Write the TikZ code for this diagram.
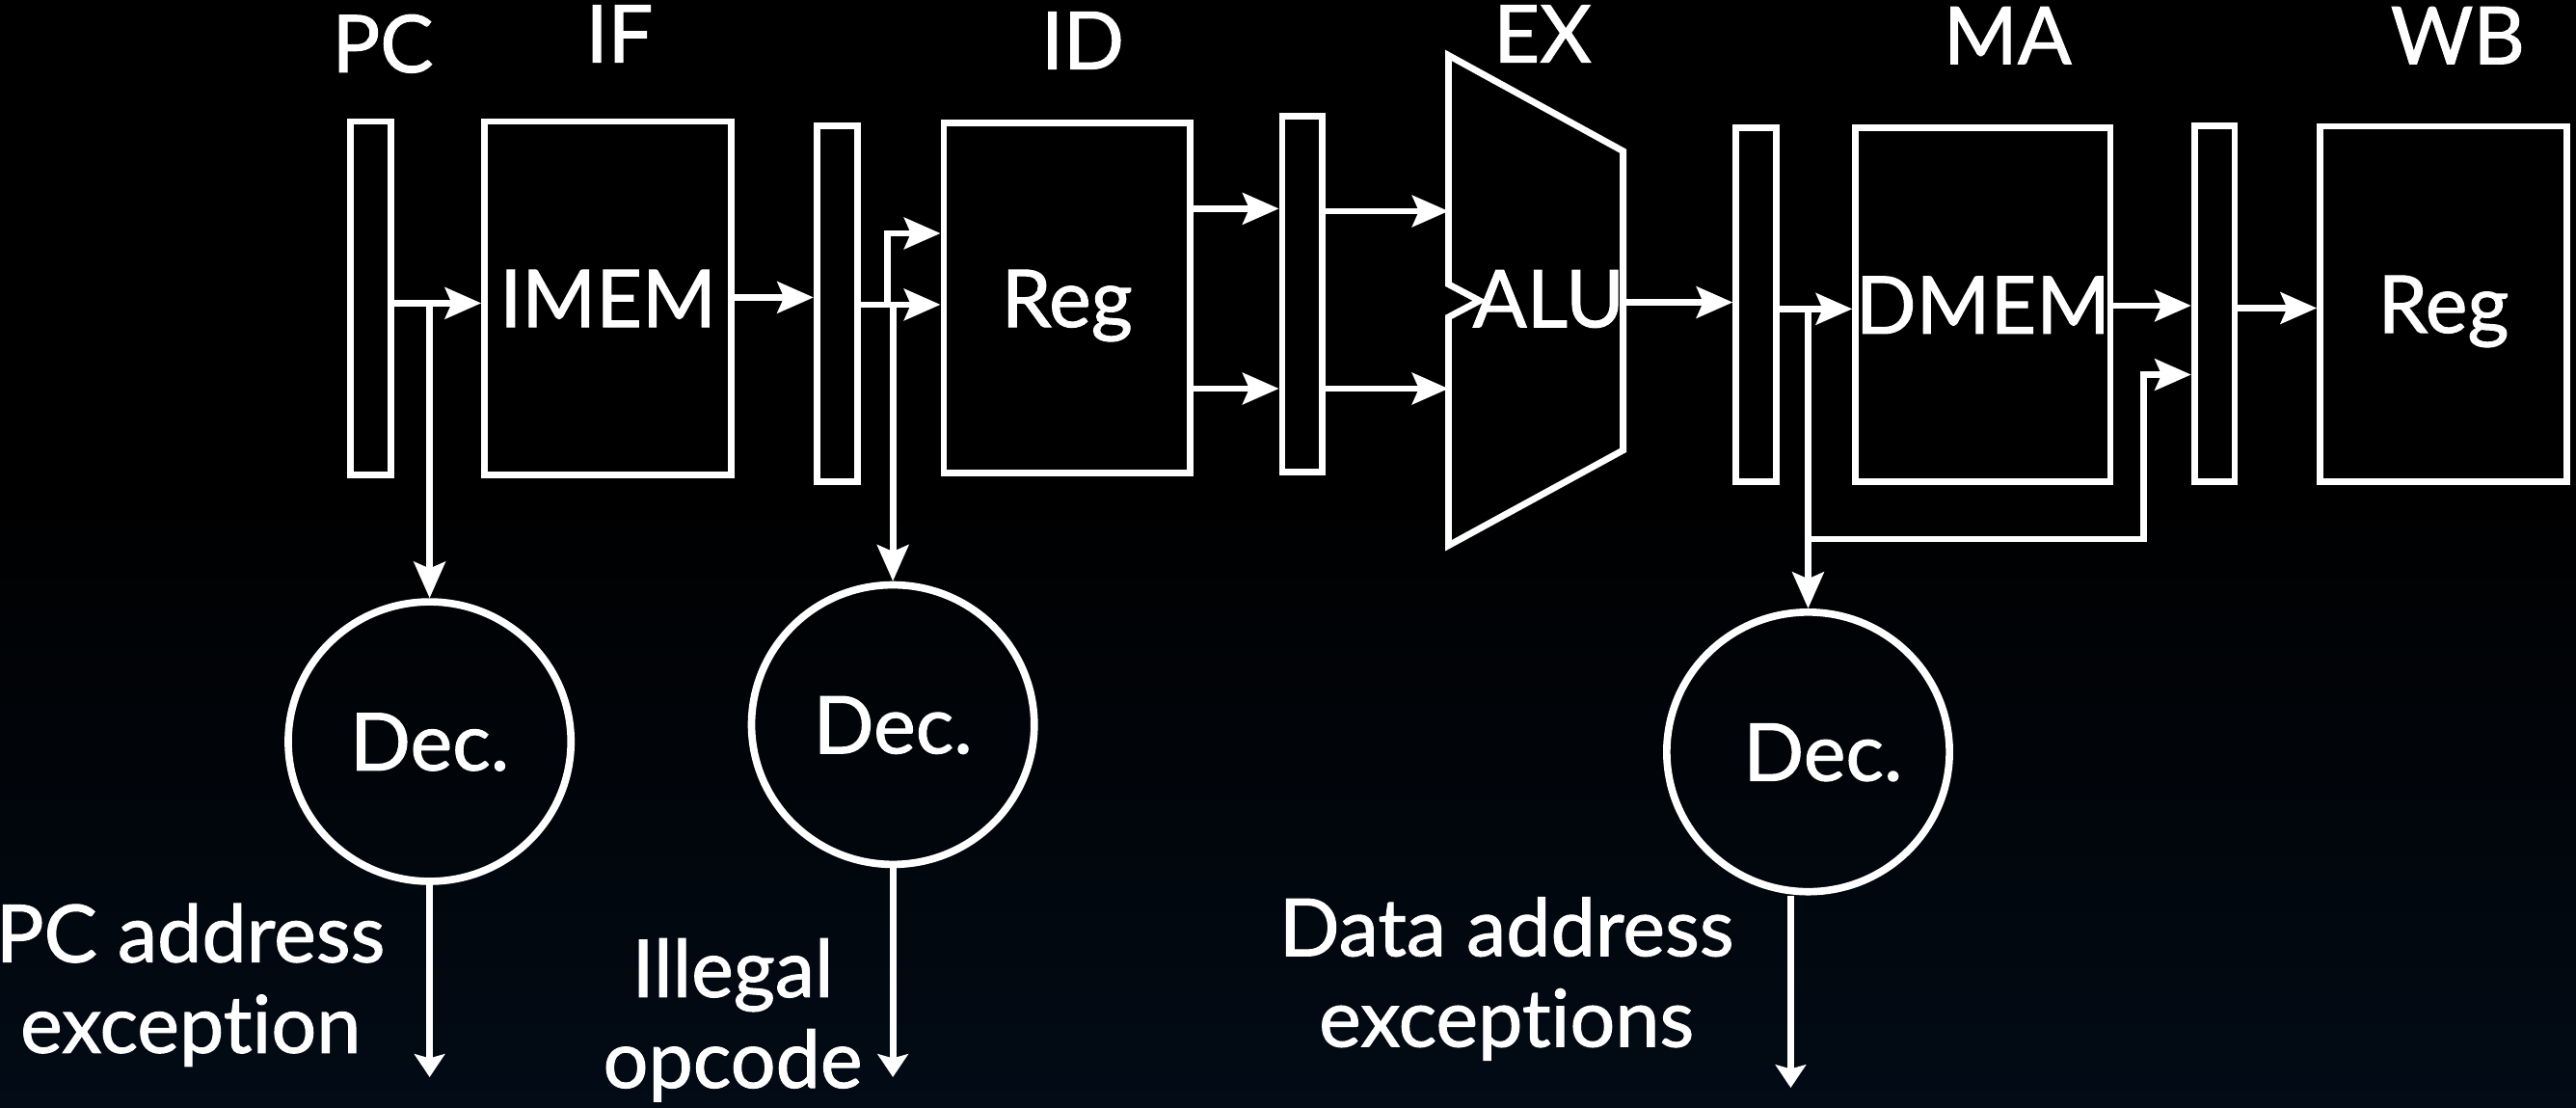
\documentclass[tikz,border=0pt]{standalone}
\usepackage{fontspec}
\setmainfont{Lato}[Ligatures={NoCommon}, FakeBold=1.2, BoldFont=Lato, BoldFeatures={FakeBold=1.2}]
\usetikzlibrary{arrows.meta,shapes.geometric,calc}
\definecolor{bgbot}{RGB}{2,11,22}
\begin{document}
\begin{tikzpicture}[x=0.01cm,y=-0.01cm,
  every node/.style={text=white, font=\fontsize{13.8}{15.7}\selectfont\bfseries},
  wireline/.style={draw=white, line width=0.04cm},
  arr/.style={wireline, -{Stealth[length=0.22cm,width=0.19cm,inset=0.04cm]}},
  outarr/.style={wireline, -{Stealth[length=0.14cm,width=0.185cm,inset=0.025cm]}},
  latchbox/.style={draw=white, line width=0.04cm, rectangle, inner sep=0pt, minimum width=0.245cm},
  funit/.style={draw=white, line width=0.04cm, rectangle, inner sep=0pt, minimum width=1.5cm, text height=0.35cm, text depth=0pt},
  decbox/.style={draw=white, line width=0.045cm, ellipse, inner sep=0pt, minimum width=1.72cm, minimum height=1.7cm, text height=0.35cm, text depth=0pt},
  stagelabel/.style={anchor=base, inner sep=0pt},
  exclabel/.style={anchor=base, align=center, inner sep=0pt}]

% background
\fill[black] (0,0) rectangle (1568,674);
\shade[top color=black, bottom color=bgbot] (0,300) rectangle (1568,674);
\useasboundingbox (0,0) rectangle (1568,674);

% stage labels
\node[stagelabel] (lpc) at (233,44) {PC};
\node[stagelabel] (lif) at (377,38) {IF};
\node[stagelabel] (lid) at (659,42) {ID};
\node[stagelabel] (lex) at (939,38) {EX};
\node[stagelabel] (lma) at (1222,39) {MA};
\node[stagelabel] (lwb) at (1496,39) {WB};

% pipeline blocks
\node[latchbox, minimum height=2.15cm] (pcreg) at (225.5,181.5) {};
\node[funit, minimum height=2.15cm] (imem) at (370,181.5) {IMEM};
\node[latchbox, minimum height=2.165cm] (ifid) at (509.5,184.75) {};
\node[funit, minimum height=2.13cm] (idreg) at (649.5,181.5) {Reg};
\node[latchbox, minimum height=2.16cm] (idex) at (792.75,179) {};
\node[latchbox, minimum height=2.15cm] (exma) at (1069,185.5) {};
\node[funit, minimum height=2.15cm] (dmem) at (1207,185.5) {DMEM};
\node[latchbox, minimum height=2.164cm] (mawb) at (1348,184.8) {};
\node[funit, minimum height=2.16cm] (wbreg) at (1487.3,185) {Reg};

% ALU
\coordinate (aluTL) at (881.7,33.7);
\coordinate (aluTR) at (988,92);
\coordinate (aluBR) at (988,274);
\coordinate (aluBL) at (881.7,332);
\coordinate (aluN1) at (881.7,193);
\coordinate (aluNT) at (900.6,183);
\coordinate (aluN2) at (881.7,173);
\draw[white, line width=0.04cm, line join=miter] (aluTL) -- (aluTR) -- (aluBR) -- (aluBL) -- (aluN1) -- (aluNT) -- (aluN2) -- cycle;
\node[inner sep=0pt, text height=0.35cm, text depth=0pt] (alu) at (942.6,181.6) {ALU};
\coordinate (aluout) at (988,184);

% decoders
\node[decbox] (dec1) at (261.5,451.3) {Dec.};
\node[decbox] (dec2) at (543.5,441) {Dec.};
\node[decbox, label={[text height=0.35cm, text depth=0pt, inner sep=0pt, xshift=0.09cm]center:Dec.}] (dec3) at (1100.6,457.6) {};

% exception labels (anchor base = last line)
\node[exclabel] (e1) at (116,640.7) {PC address\\exception};
\node[exclabel] (e2) at (446,662) {Illegal\\opcode};
\node[exclabel] (e3) at (917,637) {Data address\\exceptions};

% connectors
\draw[arr] (pcreg.east |- 0,184.5) -- (imem.west |- 0,184.5);
\draw[arr] (dec1.north |- 0,184.5) -- (dec1.north);

\draw[arr] (imem.east |- 0,181) -- (ifid.west |- 0,181);

\coordinate (f1) at (540,185.4);
\draw[arr] (ifid.east |- f1) -- (idreg.west |- f1);
\draw[arr] (f1) |- (idreg.west |- 0,142);
\draw[arr] (dec2.north |- f1) -- (dec2.north);

\draw[arr] (idreg.east |- 0,127) -- (idex.west |- 0,127);
\draw[arr] (idreg.east |- 0,236.5) -- (idex.west |- 0,236.5);
\draw[arr] (idex.east |- 0,128.5) -- (aluTL |- 0,128.5);
\draw[arr] (idex.east |- 0,236.5) -- (aluTL |- 0,236.5);

\draw[arr] (aluout) -- (exma.west |- aluout);

\coordinate (f3) at (1100.6,188);
\coordinate (f3b) at (1100.6,328);
\coordinate (f4) at (1304.6,228);
\draw[arr] (exma.east |- f3) -- (dmem.west |- f3);
\draw[arr] (f3) -- (f3b) -| (f4) -- (mawb.west |- f4);
\draw[arr] (f3b) -- (dec3.north);

\draw[arr] (dmem.east |- 0,186) -- (mawb.west |- 0,186);
\draw[arr] (mawb.east |- 0,187.5) -- (wbreg.west |- 0,187.5);

% decoder outputs
\coordinate (o1) at (262,655.5);
\coordinate (o2) at (544.6,655.5);
\coordinate (o3) at (1090,662);
\draw[outarr] (dec1.south) -- (dec1.south |- o1);
\draw[outarr] (dec2.south) -- (dec2.south |- o2);
\draw[outarr] (dec3.south -| o3) -- (o3);
\end{tikzpicture}
\end{document}
